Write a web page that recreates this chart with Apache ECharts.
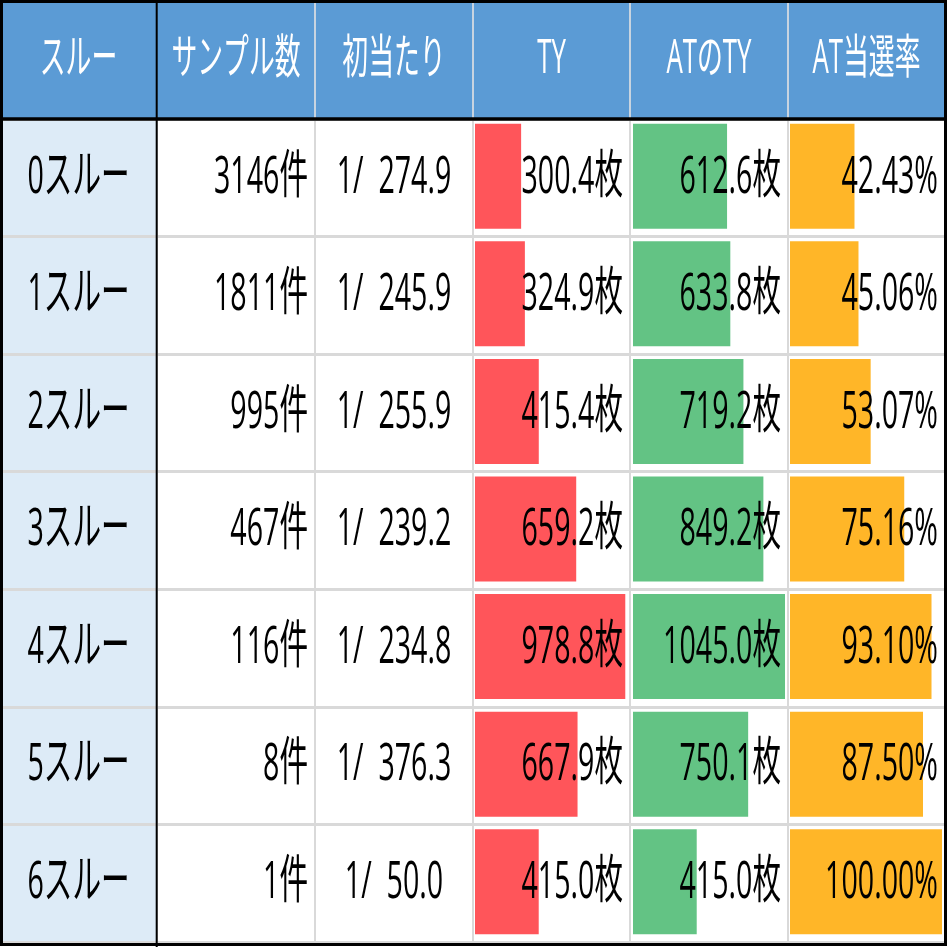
<!DOCTYPE html>
<html>
<head>
<meta charset="utf-8">
<script src="https://cdn.jsdelivr.net/npm/echarts@6/dist/echarts.min.js"></script>
<style>
html, body { margin: 0; padding: 0; background: #fff; }
#main { width: 947px; height: 947px; }
</style>
</head>
<body>
<div id="main"></div>
<script>
// table data
const headers = ['スルー', 'サンプル数', '初当たり', 'TY', 'ATのTY', 'AT当選率'];
const rows = ['0スルー', '1スルー', '2スルー', '3スルー', '4スルー', '5スルー', '6スルー'];
const samples = [3146, 1811, 995, 467, 116, 8, 1];
const firstHit = [274.9, 245.9, 255.9, 239.2, 234.8, 376.3, 50.0];
const ty = [300.4, 324.9, 415.4, 659.2, 978.8, 667.9, 415.0];
const atTy = [612.6, 633.8, 719.2, 849.2, 1045.0, 750.1, 415.0];
const atRate = [42.43, 45.06, 53.07, 75.16, 93.10, 87.50, 100.00];

// layout
const colX = [0, 157, 315, 473, 630, 788, 945];
const TOP = 119, BODY_H = 823;
const FONT = "'Open Sans','Noto Sans CJK JP',sans-serif";
const SX = 0.55;
const LINE = '#d9d9d9';

var myChart = echarts.init(document.getElementById('main'));

const textCols = [
  { labels: rows, align: 'center' },
  { labels: samples.map(v => v + '件'), align: 'right' },
  { labels: firstHit.map(v => '1/  ' + v.toFixed(1)), align: 'center' },
  { labels: ty.map(v => v.toFixed(1) + '枚'), align: 'right' },
  { labels: atTy.map(v => v.toFixed(1) + '枚'), align: 'right' },
  { labels: atRate.map(v => v.toFixed(2) + '%'), align: 'right' }
];

const barCols = [
  { data: ty, max: 990, color: '#FF555A', left: 475 },
  { data: atTy, max: 990, color: '#63C384', left: 633 },
  { data: atRate, max: 100, color: '#FFB628', left: 790 }
];

let grid = [], xAxis = [], yAxis = [], series = [];

// one grid per column: background, cell lines and text
textCols.forEach(function (c, i) {
  grid.push({
    left: colX[i], top: TOP, width: colX[i + 1] - colX[i], height: BODY_H,
    show: true, backgroundColor: i === 0 ? '#DDEBF7' : '#fff',
    borderColor: LINE, borderWidth: 2
  });
  xAxis.push({ gridIndex: i, type: 'value', min: 0, max: 1, show: false });
  yAxis.push({
    gridIndex: i, type: 'category', data: rows, inverse: true,
    axisLine: { show: false }, axisTick: { show: false }, axisLabel: { show: false },
    splitLine: { show: true, interval: 0, lineStyle: { color: LINE, width: 3 } }
  });
  series.push({
    type: 'custom', xAxisIndex: i, yAxisIndex: i, z: 10, silent: true,
    data: c.labels.map((t, r) => [c.align === 'right' ? 1 : 0.5, r]),
    renderItem: function (params, api) {
      const p = api.coord([api.value(0), api.value(1)]);
      return {
        type: 'text',
        x: p[0] + (c.align === 'right' ? -7 : 0),
        y: p[1],
        scaleX: SX,
        style: {
          text: c.labels[params.dataIndex], x: 0, y: 0,
          fill: '#000', fontSize: 52, fontFamily: FONT,
          align: c.align, verticalAlign: 'middle'
        }
      };
    }
  });
});

// data bar grids
barCols.forEach(function (b, k) {
  const gi = textCols.length + k;
  grid.push({ left: b.left, top: TOP - 1.5, width: 152, height: BODY_H, show: false });
  xAxis.push({ gridIndex: gi, type: 'value', min: 0, max: b.max, show: false });
  yAxis.push({ gridIndex: gi, type: 'category', data: rows, inverse: true, show: false });
  series.push({
    type: 'bar', xAxisIndex: gi, yAxisIndex: gi, data: b.data,
    barWidth: 105, clip: true, silent: true, z: 2,
    itemStyle: { color: b.color }
  });
});

// header and borders
let graphic = [
  { type: 'rect', shape: { x: 0, y: 0, width: 947, height: TOP }, style: { fill: '#5B9BD5' }, z: 0 }
];
for (let i = 2; i < 6; i++) {
  graphic.push({ type: 'line', shape: { x1: colX[i], y1: 0, x2: colX[i], y2: TOP }, style: { stroke: '#c8d4e0', lineWidth: 2 }, z: 1 });
}
headers.forEach(function (h, i) {
  graphic.push({
    type: 'text', x: (colX[i] + colX[i + 1]) / 2, y: 60, scaleX: SX, z: 5,
    style: { text: h, fill: '#fff', fontSize: 47, fontFamily: FONT, align: 'center', verticalAlign: 'middle' }
  });
});
graphic.push(
  { type: 'line', shape: { x1: 0, y1: TOP, x2: 947, y2: TOP }, style: { stroke: '#000', lineWidth: 3.5 }, z: 20 },
  { type: 'line', shape: { x1: 156.7, y1: 0, x2: 156.7, y2: 947 }, style: { stroke: '#000', lineWidth: 2 }, z: 20 },
  { type: 'rect', shape: { x: 1.5, y: 1.5, width: 944, height: 943 }, style: { fill: null, stroke: '#000', lineWidth: 3 }, z: 20 }
);

var option = {
  animation: false,
  grid: grid,
  xAxis: xAxis,
  yAxis: yAxis,
  series: series,
  graphic: graphic
};
myChart.setOption(option);
</script>
</body>
</html>
